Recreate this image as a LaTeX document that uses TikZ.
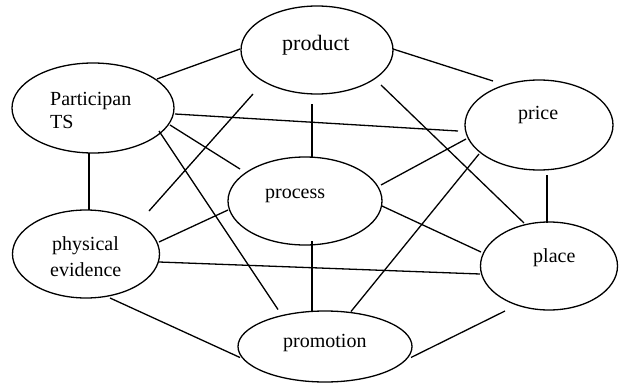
\documentclass[tikz,border=0pt]{standalone}
\usepackage{fontspec}
\setmainfont{Liberation Serif}
\usetikzlibrary{shapes.geometric,calc}
\begin{document}
\begin{tikzpicture}[x=1pt,y=-1pt,
  oval/.style={draw=black,line width=1.3pt,ellipse,inner sep=0pt},
  lbl/.style={anchor=base west,inner sep=0pt,font=\fontsize{20}{23}\selectfont},
  link/.style={draw=black,line width=1.3pt}]
\useasboundingbox (0,0) rectangle (619,383);
\node[oval,minimum width=152pt,minimum height=88pt] (prod) at (317,50) {};
\node[oval,minimum width=162pt,minimum height=90pt] (part) at (93,108) {};
\node[oval,minimum width=148pt,minimum height=90pt] (price) at (539,125) {};
\node[oval,minimum width=154pt,minimum height=88pt] (proc) at (305,201) {};
\node[oval,minimum width=147pt,minimum height=88pt] (phys) at (86,254) {};
\node[oval,minimum width=137pt,minimum height=88pt] (place) at (549,266) {};
\node[oval,minimum width=174pt,minimum height=71pt] (promo) at (325,346.5) {};
% labels
\node[lbl,font=\fontsize{22}{25}\selectfont] (tprod) at (282,50) {product};
\node[lbl] (tpart1) at (50,105) {Participan};
\node[lbl] (tpart2) at (50,128) {TS};
\node[lbl] (tprice) at (518,119) {price};
\node[lbl] (tproc) at (265,198) {process};
\node[lbl] (tphys1) at (52,250) {physical};
\node[lbl] (tphys2) at (50,276) {evidence};
\node[lbl] (tplace) at (533,262) {place};
\node[lbl] (tpromo) at (283,347) {promotion};
% connectors
\draw[link] ($(part)+(64,-29)$) -- ($(prod)+(-77,-1)$);
\draw[link] ($(prod)+(76,-1)$) -- ($(price)+(-46,-44)$);
\draw[link] ($(part)+(82,6)$) -- ($(price)+(-81,6)$);
\draw[link] ($(prod)+(-5,54)$) -- ($(proc)+(7,-44)$);
\draw[link] ($(prod)+(-64,44)$) -- ($(phys)+(63,-43)$);
\draw[link] ($(part)+(77,17)$) -- ($(proc)+(-65,-32)$);
\draw[link] ($(part)+(66,23)$) -- ($(promo)+(-47,-37)$);
\draw[link] ($(part)+(-4,45)$) -- ($(phys)+(3,-44)$);
\draw[link] ($(prod)+(64,35)$) -- ($(place)+(-25,-43)$);
\draw[link] ($(price)+(-73,14)$) -- ($(proc)+(76,-16)$);
\draw[link] ($(price)+(-60,29)$) -- ($(promo)+(26,-35)$);
\draw[link] ($(price)+(8,50)$) -- ($(place)+(-2,-43)$);
\draw[link] ($(proc)+(-77,9)$) -- ($(phys)+(73,-12)$);
\draw[link] ($(proc)+(77,5)$) -- ($(place)+(-68,-14)$);
\draw[link] ($(proc)+(7,40)$) -- ($(promo)+(-13,-36)$);
\draw[link] ($(phys)+(73,8)$) -- ($(place)+(-69,8)$);
\draw[link] ($(phys)+(24,44)$) -- ($(promo)+(-85,11)$);
\draw[link] ($(place)+(-44,45)$) -- ($(promo)+(86,11)$);
\end{tikzpicture}
\end{document}
